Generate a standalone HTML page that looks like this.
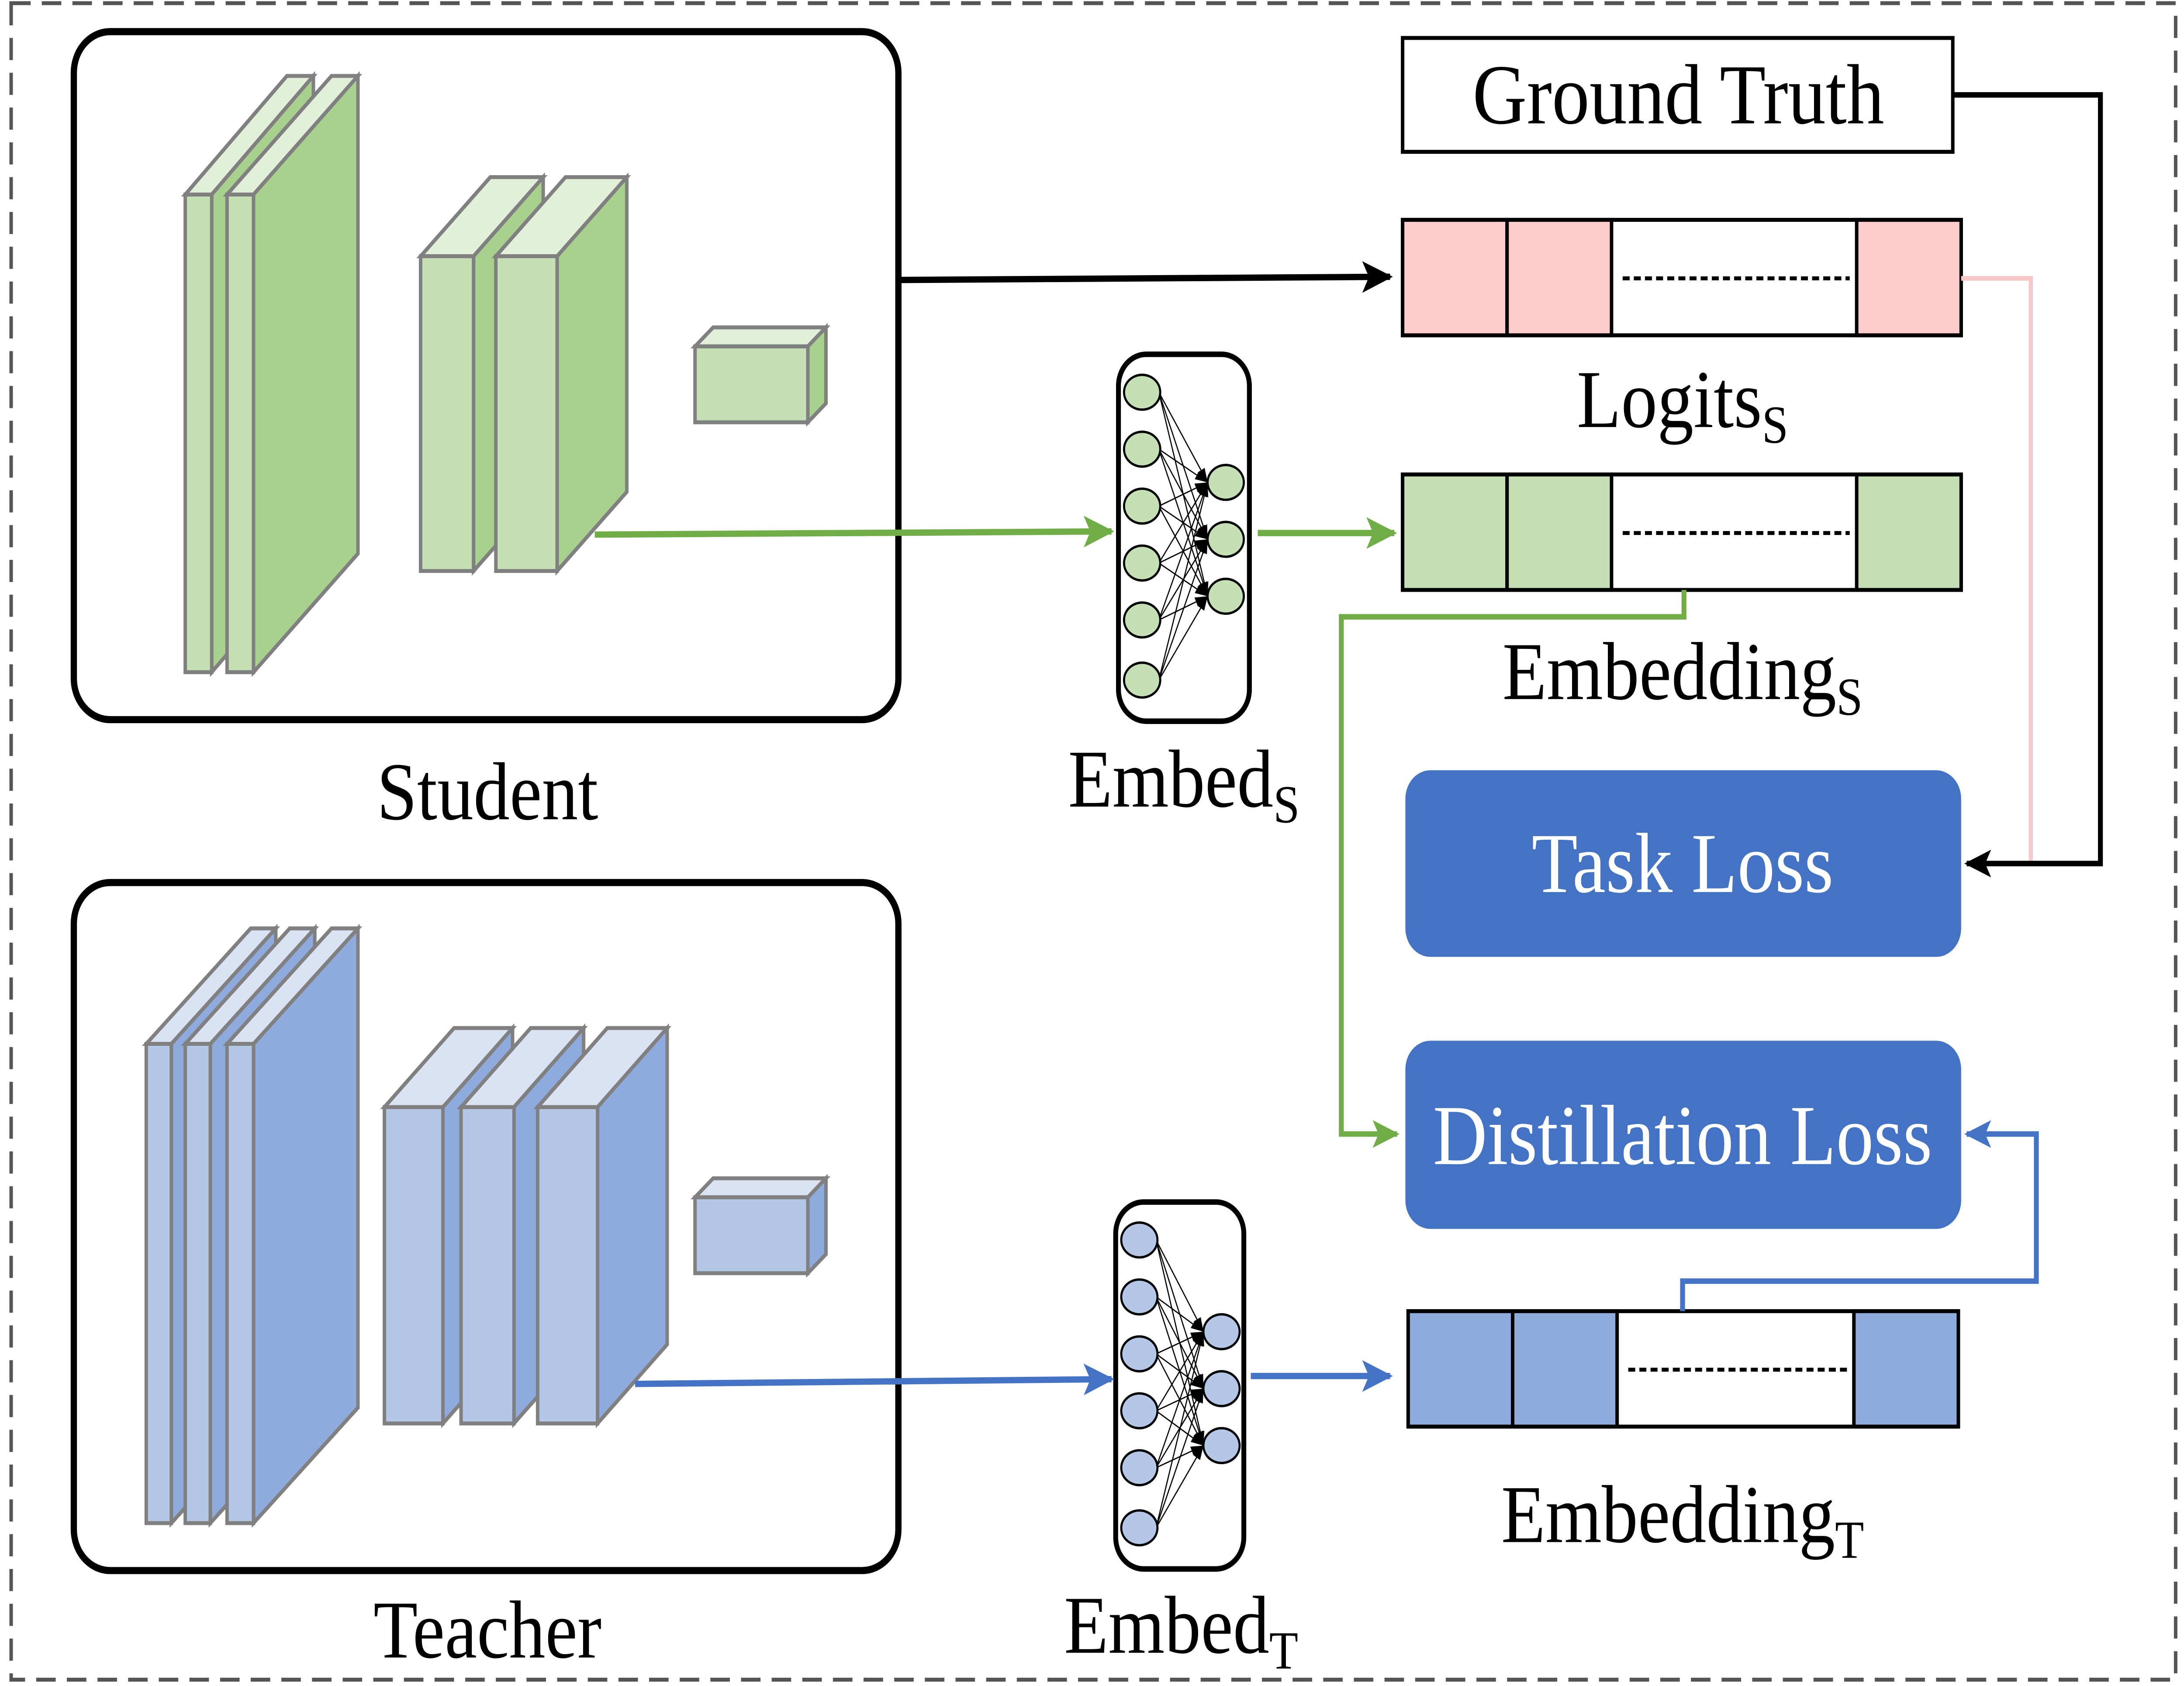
<!DOCTYPE html>
<html><head><meta charset="utf-8"><style>html,body{margin:0;padding:0;background:#fff;overflow:hidden;width:100%;height:100%}svg{display:block;position:fixed;left:0;top:0;width:100vw;height:100vh}</style></head>
<body>
<svg id="s" xmlns="http://www.w3.org/2000/svg" viewBox="0 0 1568 1066" preserveAspectRatio="none" font-family="'Liberation Serif', serif">
<defs>
<marker id="ak" markerWidth="6" markerHeight="6" refX="5" refY="3" orient="auto" markerUnits="strokeWidth"><path d="M0,0.5 L5.5,3 L0,5.5 L1.2,3 Z" fill="#000"/></marker>
<marker id="ag" markerWidth="6" markerHeight="6" refX="5" refY="3" orient="auto" markerUnits="strokeWidth"><path d="M0,0.5 L5.5,3 L0,5.5 L1.2,3 Z" fill="#70AD47"/></marker>
<marker id="ab" markerWidth="6" markerHeight="6" refX="5" refY="3" orient="auto" markerUnits="strokeWidth"><path d="M0,0.5 L5.5,3 L0,5.5 L1.2,3 Z" fill="#4472C4"/></marker>
<marker id="as" markerWidth="10" markerHeight="10" refX="9" refY="5" orient="auto" markerUnits="userSpaceOnUse"><path d="M0,2 L9,5 L0,8 Z" fill="#000"/></marker>
</defs>
<rect x="8" y="2" width="1554" height="1060" fill="none" stroke="#555" stroke-width="2.5" stroke-dasharray="14,8"/>
<rect x="53" y="20" width="592" height="435" rx="26" fill="#fff" stroke="#000" stroke-width="4.5"/>
<rect x="53" y="558" width="592" height="435" rx="26" fill="#fff" stroke="#000" stroke-width="4.5"/>
<g id="layers" stroke="#808080" stroke-width="2.5" stroke-linejoin="miter"></g>
<g font-size="52" text-anchor="middle">
<text x="350" y="518">Student</text>
<text x="350" y="1048">Teacher</text>
</g>
<rect x="1007" y="24" width="395" height="72" fill="#fff" stroke="#000" stroke-width="2.5"/>
<text x="1205" y="78" font-size="54" text-anchor="middle">Ground Truth</text>
<g id="bars" stroke="#000" stroke-width="2.5"></g>
<g font-size="52" text-anchor="middle">
<text x="1208" y="270">Logits<tspan font-size="34" dy="10">S</tspan></text>
<text x="1208" y="442">Embedding<tspan font-size="34" dy="10">S</tspan></text>
<text x="1208" y="975">Embedding<tspan font-size="34" dy="10">T</tspan></text>
<text x="850" y="510">Embed<tspan font-size="34" dy="10">S</tspan></text>
<text x="848" y="1045">Embed<tspan font-size="34" dy="10">T</tspan></text>
</g>
<rect x="1009" y="487" width="399" height="118" rx="18" fill="#4472C4"/>
<text x="1208" y="564" font-size="54" fill="#fff" text-anchor="middle">Task Loss</text>
<rect x="1009" y="658" width="399" height="119" rx="18" fill="#4472C4"/>
<text x="1208" y="736" font-size="54" fill="#fff" text-anchor="middle">Distillation Loss</text>
<g id="nets"></g>
<g fill="none" stroke-width="4">
<line x1="647" y1="177" x2="998" y2="175" stroke="#000" marker-end="url(#ak)"/>
<line x1="427" y1="338" x2="798" y2="336" stroke="#70AD47" marker-end="url(#ag)"/>
<line x1="903" y1="337" x2="1001" y2="337" stroke="#70AD47" marker-end="url(#ag)"/>
<polyline points="1209,373 1209,390 963,390 963,717 1003,717" stroke="#70AD47" stroke-width="3.5" marker-end="url(#ag)"/>
<polyline points="1408,176 1458,176 1458,545" stroke="#F8C8C8" stroke-width="3"/>
<polyline points="1402,60 1508,60 1508,546 1412,546" stroke="#000" stroke-width="3.5" marker-end="url(#ak)"/>
<line x1="456" y1="875" x2="798" y2="872" stroke="#4472C4" marker-end="url(#ab)"/>
<line x1="898" y1="870" x2="998" y2="870" stroke="#4472C4" marker-end="url(#ab)"/>
<polyline points="1208,829 1208,810 1462,810 1462,717 1412,717" stroke="#4472C4" stroke-width="3.5" marker-end="url(#ab)"/>
</g>
</svg>
<script>
var NS="http://www.w3.org/2000/svg";
function el(p,t,a){var e=document.createElementNS(NS,t);for(var k in a)e.setAttribute(k,a[k]);p.appendChild(e);return e;}
var L=document.getElementById('layers');
function box(x,y,w,h,dx,dy,cf,ct,cs){
 el(L,'polygon',{points:[x,y,x+dx,y-dy,x+w+dx,y-dy,x+w,y].join(' '),fill:ct});
 el(L,'polygon',{points:[x+w,y,x+w+dx,y-dy,x+w+dx,y+h-dy,x+w,y+h].join(' '),fill:cs});
 el(L,'rect',{x:x,y:y,width:w,height:h,fill:cf});
}
var G=['#C5E0B4','#E2F0D9','#A9D18E'],B=['#B4C7E7','#DAE3F3','#8FAADC'];
box(133,123,19,302,73,75,G[0],G[1],G[2]);
box(163,123,19,302,75,75,G[0],G[1],G[2]);
box(302,162,38,199,50,50,G[0],G[1],G[2]);
box(356,162,44,199,50,50,G[0],G[1],G[2]);
box(499,219,81,48,13,12,G[0],G[1],G[2]);
box(105,660,18,303,75,73,B[0],B[1],B[2]);
box(133,660,18,303,75,73,B[0],B[1],B[2]);
box(163,660,19,303,75,73,B[0],B[1],B[2]);
box(276,700,42,200,50,50,B[0],B[1],B[2]);
box(331,700,38,200,50,50,B[0],B[1],B[2]);
box(386,700,43,200,50,50,B[0],B[1],B[2]);
box(499,757,81,48,13,12,B[0],B[1],B[2]);
var Bs=document.getElementById('bars');
function bar(x,y,w,c){var h=73;
 el(Bs,'rect',{x:x,y:y,width:w,height:h,fill:'#fff'});
 el(Bs,'rect',{x:x,y:y,width:75,height:h,fill:c});
 el(Bs,'rect',{x:x+75,y:y,width:75,height:h,fill:c});
 el(Bs,'rect',{x:x+w-75,y:y,width:75,height:h,fill:c});
 el(Bs,'line',{x1:x+158,y1:y+37,x2:x+w-80,y2:y+37,'stroke-dasharray':'5,3','stroke-width':2.5});
}
bar(1007,139,401,'#FFCCCC');
bar(1007,300,401,'#C5E0B4');
bar(1011,829,395,'#8FAADC');
var N=document.getElementById('nets');
function net(x,y,w,h,lx,ly,rx,ry,c){
 el(N,'rect',{x:x,y:y,width:w,height:h,rx:20,fill:'#fff',stroke:'#000','stroke-width':3.5});
 for(var i=0;i<ly.length;i++)for(var j=0;j<ry.length;j++){
  el(N,'line',{x1:lx+12,y1:ly[i],x2:rx-13,y2:ry[j],stroke:'#000','stroke-width':0.8,'marker-end':'url(#as)'});
 }
 ly.forEach(function(v){el(N,'ellipse',{cx:lx,cy:v,rx:13,ry:11,fill:c,stroke:'#000','stroke-width':1.5});});
 ry.forEach(function(v){el(N,'ellipse',{cx:rx,cy:v,rx:13,ry:11,fill:c,stroke:'#000','stroke-width':1.5});});
}
net(803,224,94,232,820,[248,284,320,356,392,430],880,[305,341,377],'#C5E0B4');
net(801,760,92,232,818,[784,820,856,892,928,966],877,[842,878,914],'#B4C7E7');
</script>
</body></html>
